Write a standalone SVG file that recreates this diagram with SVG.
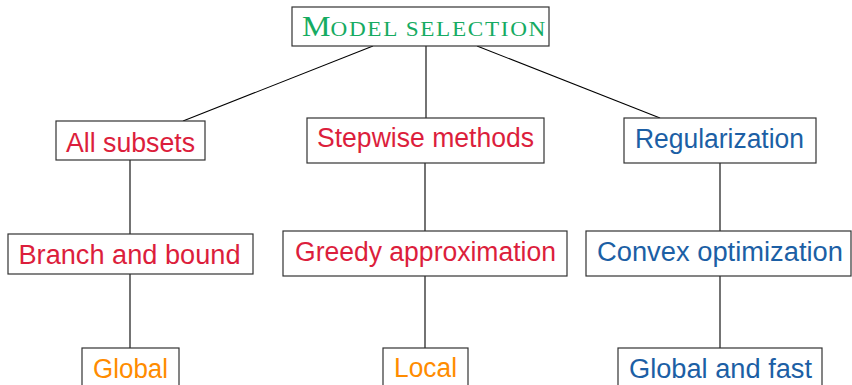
<svg xmlns="http://www.w3.org/2000/svg" width="852" height="385" viewBox="0 0 852 385">
<style>
.box{fill:#fff;stroke:#333;stroke-width:1.2}
.lbl{font-family:"Liberation Sans","Open Sans",sans-serif;font-size:27px;text-anchor:middle}
.red{fill:#dc1e3c}
.blue{fill:#1c5fa5}
.orange{fill:#ff8c00}
.green{fill:#16ab62}
.ttl{font-family:"Liberation Serif",serif;text-anchor:middle}
#connectors line{stroke:#000;stroke-width:1.1}
</style>
<rect width="852" height="385" fill="#fff"/>
<g id="connectors">
<line x1="373" y1="46" x2="183" y2="121"/>
<line x1="426" y1="46" x2="426" y2="118"/>
<line x1="477" y1="46" x2="660" y2="118"/>
<line x1="130" y1="160" x2="130" y2="234"/>
<line x1="425" y1="163" x2="425" y2="231"/>
<line x1="720" y1="163" x2="720" y2="231"/>
<line x1="130" y1="274" x2="130" y2="348"/>
<line x1="425" y1="276" x2="425" y2="348"/>
<line x1="720" y1="276" x2="720" y2="348"/>
</g>
<g id="model-selection">
<rect class="box" x="292" y="7" width="257" height="39"/>
<text class="ttl green" x="424.5" y="36" textLength="245" lengthAdjust="spacingAndGlyphs"><tspan font-size="29">M</tspan><tspan font-size="21" letter-spacing="1.5">ODEL SELECTION</tspan></text>
</g>
<g id="all-subsets">
<rect class="box" x="56" y="121" width="149" height="39"/>
<text class="lbl red" x="130.5" y="152" textLength="129" lengthAdjust="spacingAndGlyphs">All subsets</text>
</g>
<g id="stepwise">
<rect class="box" x="307" y="118" width="237" height="45"/>
<text class="lbl red" x="425.5" y="147" textLength="217" lengthAdjust="spacingAndGlyphs">Stepwise methods</text>
</g>
<g id="regularization">
<rect class="box" x="624" y="118" width="192" height="45"/>
<text class="lbl blue" x="719.5" y="148" textLength="169" lengthAdjust="spacingAndGlyphs">Regularization</text>
</g>
<g id="branch-bound">
<rect class="box" x="8" y="234" width="245" height="40"/>
<text class="lbl red" x="129.5" y="264" textLength="222" lengthAdjust="spacingAndGlyphs">Branch and bound</text>
</g>
<g id="greedy">
<rect class="box" x="283" y="231" width="284" height="45"/>
<text class="lbl red" x="425.5" y="261" textLength="261" lengthAdjust="spacingAndGlyphs">Greedy approximation</text>
</g>
<g id="convex">
<rect class="box" x="586" y="231" width="265" height="45"/>
<text class="lbl blue" x="720" y="261" textLength="246" lengthAdjust="spacingAndGlyphs">Convex optimization</text>
</g>
<g id="global">
<rect class="box" x="82" y="348" width="97" height="50"/>
<text class="lbl orange" x="130.5" y="378" textLength="75" lengthAdjust="spacingAndGlyphs">Global</text>
</g>
<g id="local">
<rect class="box" x="383" y="348" width="85" height="50"/>
<text class="lbl orange" x="425.5" y="377" textLength="63" lengthAdjust="spacingAndGlyphs">Local</text>
</g>
<g id="global-fast">
<rect class="box" x="618" y="348" width="204" height="50"/>
<text class="lbl blue" x="720.5" y="378" textLength="183" lengthAdjust="spacingAndGlyphs">Global and fast</text>
</g>
</svg>
